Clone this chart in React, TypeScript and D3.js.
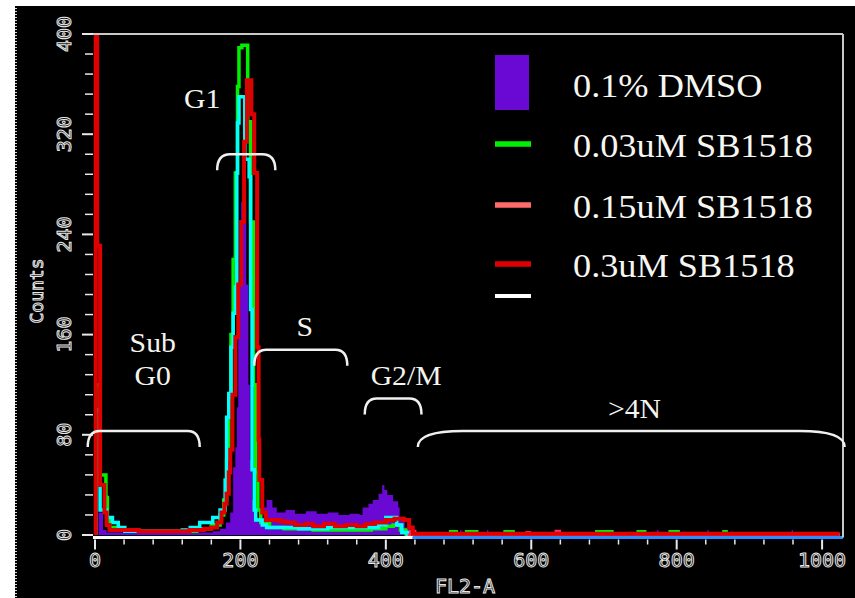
import React from 'react';
import * as d3 from 'd3';

const W = 855;
const H = 598;

// FL2-A channel -> counts, histogram steps (value holds until next channel)
const dmso: [number, number][] = [
  [0, 0], [5, 18], [11, 4], [16, 2], [140, 2], [162, 3], [172, 5], [180, 10], [186, 18],
  [190, 54], [193, 70], [195, 102], [197, 158], [199, 210], [201, 266], [208, 200],
  [211, 120], [213, 60], [216, 28], [220, 14], [226, 12], [232, 22], [236, 28], [244, 22],
  [250, 18], [262, 20], [275, 17], [290, 19], [305, 17], [320, 18], [335, 16], [350, 17],
  [364, 16], [368, 22], [376, 25], [382, 28], [390, 33], [395, 40], [398, 36], [402, 32],
  [410, 27], [417, 22], [419, 12], [426, 6], [433, 3], [437, 0],
  [501, 0], [502, 4], [504, 0], [538, 0], [539, 4], [541, 0], [572, 0], [573, 4], [575, 0],
  [772, 0], [773, 4], [775, 0], [841, 0], [842, 4], [844, 0], [957, 0], [958, 4], [960, 0],
  [1024, 0],
];

const sb003: [number, number][] = [
  [1, 0], [1, 120], [7, 48], [15, 30], [17, 12], [20, 6], [30, 4], [60, 3], [100, 3],
  [140, 5], [160, 8], [172, 16], [177, 28], [181, 60], [184, 110], [187, 160], [190, 220],
  [193, 289], [196, 358], [198, 389], [202, 391], [210, 330], [214, 250], [218, 120],
  [221, 50], [224, 20], [228, 10], [240, 6], [260, 5], [300, 4], [340, 4], [380, 5],
  [400, 7], [410, 8], [420, 4], [428, 0],
  [488, 0], [489, 2.5], [497, 0], [511, 2.5], [525, 0], [564, 2.5], [575, 0],
  [690, 2.5], [711, 0], [747, 2.5], [756, 0], [791, 2.5], [802, 0], [865, 2.5], [868, 0],
  [1024, 0],
];

const sb015: [number, number][] = [
  [430, 0], [434, 3], [440, 0], [594, 2], [598, 0], [634, 3], [639, 0], [1024, 0],
];

const sb03: [number, number][] = [
  [1, 0], [1, 420], [3, 231], [7, 40], [13, 18], [16, 8], [20, 4], [60, 3], [100, 3], [130, 4],
  [150, 5], [160, 6], [168, 10], [174, 18], [178, 25], [181, 33], [184, 50], [186, 68],
  [189, 112], [193, 158], [197, 200], [201, 250], [205, 314], [209, 363], [215, 336],
  [219, 289], [223, 150], [225, 76], [226, 44], [230, 18], [235, 12], [254, 11], [262, 10],
  [275, 8], [290, 9], [300, 7], [315, 9], [330, 7], [345, 8], [360, 7], [372, 9], [385, 10],
  [400, 12], [412, 13], [425, 12], [432, 6], [437, 1], [1024, 1],
];

const cyanTrace: [number, number][] = [
  [1, 0], [1, 100], [7, 20], [16, 14], [24, 10], [32, 6], [41, 3], [80, 3], [120, 4],
  [131, 6], [144, 10], [162, 14], [172, 20], [179, 44], [181, 94], [184, 113], [187, 150],
  [190, 177], [193, 198], [195, 289], [196, 329], [198, 350], [206, 300], [212, 286],
  [214, 180], [216, 52], [219, 20], [221, 12], [230, 8], [236, 6], [280, 5], [320, 6],
  [360, 6], [390, 8], [400, 14], [415, 8], [422, 2], [430, 0], [1024, 0],
];

const xMajorTicks = [0, 200, 400, 600, 800, 1000];
const yMajorTicks = [0, 80, 160, 240, 320, 400];
const legendLabels = ['0.1% DMSO', '0.03uM SB1518', '0.15uM SB1518', '0.3uM SB1518', ''];
const legendColors = ['#6a08d4', '#00f000', '#ff6b6b', '#e00000', '#ffffff'];

const gateNames = [['Sub', 'G0'], ['G1'], ['S'], ['G2/M'], ['>4N']];
const gateFrom = [-10, 168, 219, 371, 444];
const gateTo = [144, 248, 347, 449, 1031];
const gateLevel = [83, 304, 148, 109, 83];

// layout (pixels)
const labelDx = [9, -44, 4, 13, 4];
const labelDy = [-46, -46, -14, -13, -13];
const gateRadius = [12, 13, 12, 12, 45];

export default function App() {
  const x = d3.scaleLinear().domain([0, 1024]).range([95, 95 + 1024 * 0.7271]);
  const y = d3.scaleLinear().domain([0, 400]).range([535, 34]);

  const line = d3.line<[number, number]>()
    .x(d => x(d[0]))
    .y(d => y(d[1]))
    .curve(d3.curveStepAfter);
  const area = d3.area<[number, number]>()
    .x(d => x(d[0]))
    .y0(y(0))
    .y1(d => y(d[1]))
    .curve(d3.curveStepAfter);

  const xMinor = d3.range(0, 1001, 40);
  const yMinor = d3.range(0, 401, 16);

  const plotLeft = 93;
  const plotRight = 843;
  const plotTop = y(400);
  const baseY = 537.5;

  const outlined = {
    fill: '#000',
    stroke: '#e8e8e8',
    strokeWidth: 1,
    fontFamily: 'DejaVu Sans Mono, monospace',
  } as const;

  const bracket = (i: number) => {
    const x1 = x(gateFrom[i]);
    const x2 = Math.min(x(gateTo[i]), plotRight + 2);
    const yt = y(gateLevel[i]);
    const yb = yt + 16;
    const r = gateRadius[i];
    return `M${x1},${yb} Q${x1},${yt} ${x1 + r},${yt} L${x2 - r},${yt} Q${x2},${yt} ${x2},${yb}`;
  };

  return (
    <svg width={W} height={H} style={{ position: 'absolute', left: 0, top: 0, background: '#fff' }}>
      <defs>
        <clipPath id="plotClip">
          <rect x={85} y={plotTop} width={plotRight - 85} height={baseY - plotTop + 1} />
        </clipPath>
      </defs>
      <rect x={15} y={6} width={W - 15} height={H - 6} fill="#000" />
      <line x1={16} y1={8} x2={16} y2={H} stroke="#d8d8d8" strokeWidth={2} strokeDasharray="1,2" />

      {/* histograms */}
      <g clipPath="url(#plotClip)">
        <path d={area(dmso) ?? ''} fill="#6a08d4" />
        <path d={line(sb003) ?? ''} fill="none" stroke="#00f000" strokeWidth={3.5} />
        <path d={line(cyanTrace) ?? ''} fill="none" stroke="#00ffff" strokeWidth={3.5} />
        <path d={line(sb015) ?? ''} fill="none" stroke="#ff2a6a" strokeWidth={3} />
        <path d={line(sb03) ?? ''} fill="none" stroke="#e00000" strokeWidth={4} />
      </g>

      {/* baseline */}
      <line x1={plotLeft} x2={x(437)} y1={baseY} y2={baseY} stroke="#ffffff" strokeWidth={3} />
      <line x1={x(437)} x2={plotRight} y1={baseY} y2={baseY} stroke="#2f8cff" strokeWidth={3} />

      {/* frame */}
      <line x1={plotLeft} x2={plotRight} y1={plotTop} y2={plotTop} stroke="#c8c8c8" strokeWidth={2} />
      <line x1={plotRight} x2={plotRight} y1={plotTop} y2={baseY} stroke="#c8c8c8" strokeWidth={2} />

      {/* y axis */}
      {yMinor.map(v => (
        <line key={`ym${v}`} x1={yMajorTicks.includes(v) ? 82 : 85} x2={plotLeft}
          y1={y(v)} y2={y(v)} stroke="#e8e8e8" strokeWidth={yMajorTicks.includes(v) ? 2 : 1.5} />
      ))}
      {yMajorTicks.map(v => (
        <text key={`yl${v}`} transform={`translate(${71},${y(v)}) rotate(-90)`}
          textAnchor="middle" fontSize={20} {...outlined}>{v}</text>
      ))}
      <text transform={`translate(${43},${291}) rotate(-90)`} textAnchor="middle" fontSize={18} {...outlined}>Counts</text>

      {/* x axis */}
      {xMinor.map(v => (
        <line key={`xm${v}`} x1={x(v)} x2={x(v)} y1={baseY + 2}
          y2={baseY + (xMajorTicks.includes(v) ? 12 : 7)} stroke="#e8e8e8" strokeWidth={xMajorTicks.includes(v) ? 2 : 1.5} />
      ))}
      {xMajorTicks.map(v => (
        <text key={`xl${v}`} x={x(v)} y={567} textAnchor="middle" fontSize={20} {...outlined}>{v}</text>
      ))}
      <text x={465} y={593} textAnchor="middle" fontSize={20} {...outlined}>FL2-A</text>

      {/* gates */}
      {gateNames.map((names, i) => {
        const cx = (x(gateFrom[i]) + Math.min(x(gateTo[i]), plotRight)) / 2 + labelDx[i];
        const ty = y(gateLevel[i]) + labelDy[i];
        return (
          <g key={`g${i}`}>
            <path d={bracket(i)} fill="none" stroke="#f0f0f0" strokeWidth={2.5} />
            {names.map((n, j) => (
              <text key={j} transform={`translate(${cx},${ty - (names.length - 1 - j) * 33}) scale(1.1,1)`}
                textAnchor="middle" fontFamily="Liberation Serif, serif" fontSize={27} fill="#f4f4ee">{n}</text>
            ))}
          </g>
        );
      })}

      {/* legend */}
      {legendLabels.map((lab, i) => {
        const rowY = [84, 144, 205, 264, 296][i];
        return (
          <g key={`lg${i}`}>
            {i === 0 ? (
              <rect x={495} y={55} width={34} height={55} fill={legendColors[i]} />
            ) : (
              <line x1={495} x2={531} y1={rowY} y2={rowY} stroke={legendColors[i]} strokeWidth={i === 4 ? 4 : 5.5} />
            )}
            {lab && (
              <text transform={`translate(573,${rowY + 13}) scale(1.1,1)`}
                fontFamily="Liberation Serif, serif" fontSize={33} fill="#f6f6f2">{lab}</text>
            )}
          </g>
        );
      })}
    </svg>
  );
}
